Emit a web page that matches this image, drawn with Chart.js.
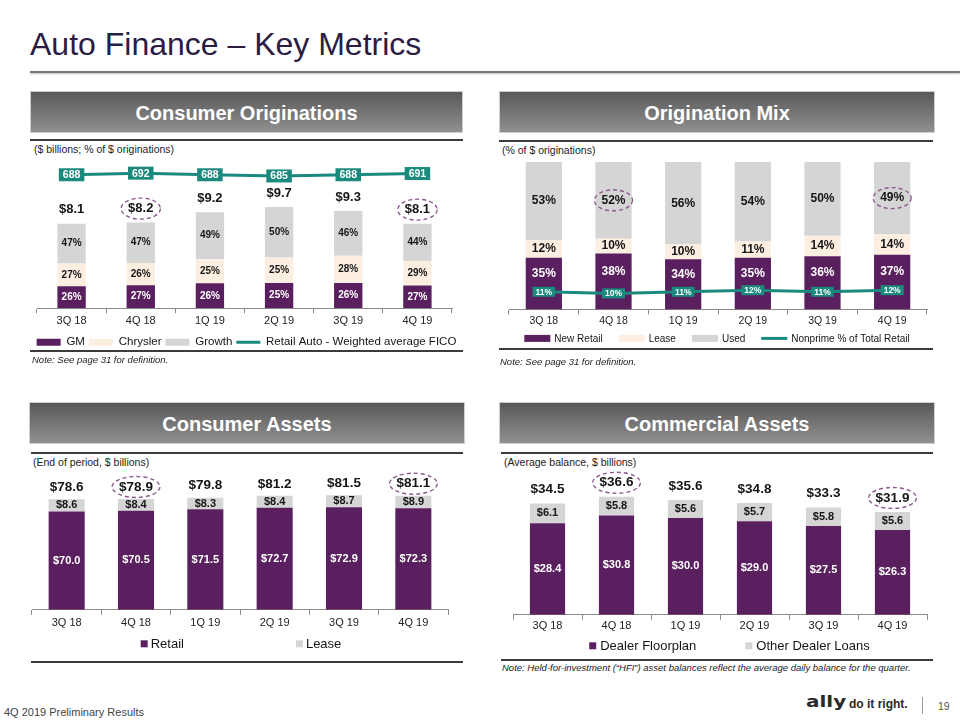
<!DOCTYPE html>
<html>
<head>
<meta charset="utf-8">
<script src="https://cdn.jsdelivr.net/npm/chart.js"></script>
<style>
html,body{margin:0;padding:0;width:960px;height:720px;overflow:hidden;background:#fff;font-family:"Liberation Sans",Arial,Helvetica,sans-serif;}
.t{position:absolute;white-space:nowrap;}
.hdr{position:absolute;height:42px;line-height:42px;text-align:center;color:#fff;font-weight:bold;font-size:20px;background:linear-gradient(#595959,#909090);border:1px solid #cfcfcf;box-sizing:border-box;}
.rule{position:absolute;height:2px;background:#3b3b3b;}
.sub{position:absolute;font-size:10.5px;color:#222;line-height:12px;white-space:nowrap;}
.note{position:absolute;font-size:9.5px;font-style:italic;color:#222;line-height:12px;white-space:nowrap;}
canvas{position:absolute;}
</style>
</head>
<body>
<div class="t" style="left:30px;top:28px;font-size:32px;line-height:32px;color:#2b1c44;">Auto Finance – Key Metrics</div>
<div style="position:absolute;left:30px;top:71px;width:930px;height:2px;background:#777;box-shadow:0 1px 2px #bbb;"></div>

<div class="hdr" style="left:30px;top:91px;width:433px;">Consumer Originations</div>
<div class="hdr" style="left:499px;top:91px;width:436px;">Origination Mix</div>
<div class="hdr" style="left:29px;top:402px;width:436px;">Consumer Assets</div>
<div class="hdr" style="left:499px;top:402px;width:436px;">Commercial Assets</div>

<div class="rule" style="left:30px;top:139px;width:433px;"></div>
<div class="rule" style="left:499px;top:140px;width:434px;"></div>
<div class="rule" style="left:31px;top:452px;width:432px;"></div>
<div class="rule" style="left:501px;top:452px;width:432px;"></div>

<div class="sub" style="left:34px;top:143px;">($ billions; % of $ originations)</div>
<div class="sub" style="left:502px;top:144px;">(% of $ originations)</div>
<div class="sub" style="left:33px;top:456px;">(End of period, $ billions)</div>
<div class="sub" style="left:504px;top:456px;">(Average balance, $ billions)</div>

<canvas id="c1" width="433" height="200" style="left:30px;top:158px;"></canvas>
<canvas id="c2" width="436" height="196" style="left:499px;top:158px;"></canvas>
<canvas id="c3" width="436" height="189" style="left:29px;top:466px;"></canvas>
<canvas id="c4" width="436" height="189" style="left:499px;top:466px;"></canvas>

<div class="rule" style="left:30px;top:350px;width:433px;"></div>
<div class="rule" style="left:499px;top:348px;width:434px;"></div>
<div class="rule" style="left:31px;top:661px;width:432px;"></div>
<div class="rule" style="left:501px;top:659px;width:432px;"></div>

<div class="note" style="left:32px;top:354px;">Note: See page 31 for definition.</div>
<div class="note" style="left:500px;top:356px;">Note: See page 31 for definition.</div>
<div class="note" style="left:502px;top:662px;">Note: Held-for-investment (“HFI”) asset balances reflect the average daily balance for the quarter.</div>

<div class="t" style="left:4px;top:706px;font-size:11px;line-height:12px;color:#444;">4Q 2019 Preliminary Results</div>
<div class="t" style="left:806px;top:688px;font-family:'DejaVu Sans',sans-serif;font-weight:bold;font-size:20px;line-height:22px;color:#2a2a2a;transform:scale(1,0.8);transform-origin:left bottom;">ally</div>
<div class="t" style="left:849px;top:698px;font-weight:bold;font-size:12px;line-height:12px;color:#2a2a2a;">do it right.</div>
<div style="position:absolute;left:922px;top:697px;width:1px;height:17px;background:#999;"></div>
<div class="t" style="left:938px;top:700px;font-size:10.5px;line-height:12px;color:#555;">19</div>

<script>
// ---------- data ----------
const quarters = ['3Q 18', '4Q 18', '1Q 19', '2Q 19', '3Q 19', '4Q 19'];

// Consumer Originations ($ billions; % of $ originations)
const origTotal = [8.1, 8.2, 9.2, 9.7, 9.3, 8.1];
const origGmPct = [26, 27, 26, 25, 26, 27];
const origChryslerPct = [27, 26, 25, 25, 28, 29];
const origGrowthPct = [47, 47, 49, 50, 46, 44];
const ficoScore = [688, 692, 688, 685, 688, 691];

// Origination Mix (% of $ originations)
const mixNewRetail = [35, 38, 34, 35, 36, 37];
const mixLease = [12, 10, 10, 11, 14, 14];
const mixUsed = [53, 52, 56, 54, 50, 49];
const nonprimePct = [11, 10, 11, 12, 11, 12];

// Consumer Assets (End of period, $ billions)
const caRetail = [70.0, 70.5, 71.5, 72.7, 72.9, 72.3];
const caLease = [8.6, 8.4, 8.3, 8.4, 8.7, 8.9];
const caTotal = [78.6, 78.9, 79.8, 81.2, 81.5, 81.1];

// Commercial Assets (Average balance, $ billions)
const cmFloorplan = [28.4, 30.8, 30.0, 29.0, 27.5, 26.3];
const cmOther = [6.1, 5.8, 5.6, 5.7, 5.8, 5.6];
const cmTotal = [34.5, 36.6, 35.6, 34.8, 33.3, 31.9];

// ---------- styling ----------
const FONT = '"Liberation Sans", Arial, Helvetica, sans-serif';
Chart.defaults.font.family = FONT;
Chart.defaults.color = '#1a1a1a';
const PURPLE = '#5a1f5e';
const CREAM = '#fcefe2';
const GRAY = '#d5d5d5';
const TEAL = '#1b8a7e';
const AXIS = '#8a8a8a';
const DARK = '#151515';

const pct = v => v + '%';
const usd = v => '$' + v.toFixed(1);

function xAxis(fontSize, pad, extra) {
  return {
    stacked: true, offset: true,
    grid: { display: true, offset: true, drawOnChartArea: false, drawTicks: true, tickLength: 5, color: AXIS, lineWidth: 1 },
    border: { display: true, color: AXIS, width: 1 },
    ticks: { color: '#222', font: { size: fontSize }, padding: pad, maxRotation: 0, autoSkip: false },
    afterFit: (s) => { s.height += extra; }
  };
}
function hiddenAxis(opts, width, pos) {
  return Object.assign({
    display: true, position: pos,
    ticks: { display: false }, grid: { display: false, drawTicks: false }, border: { display: false },
    afterFit: (s) => { s.width = width; }
  }, opts);
}
function legendItems(chart) {
  return chart.data.datasets.map((ds, i) => {
    const isLine = ds.type === 'line';
    return {
      text: ds.label, fillStyle: ds.backgroundColor, strokeStyle: isLine ? ds.borderColor : ds.backgroundColor,
      lineWidth: isLine ? 3 : 0, pointStyle: isLine ? 'line' : 'rect', hidden: false, datasetIndex: i, fontColor: DARK
    };
  });
}

function makeAnnot(cfg) {
  return {
    id: 'annot',
    afterDatasetsDraw(chart) {
      const ctx = chart.ctx;
      const rings = [];
      ctx.save();
      ctx.textAlign = 'center';
      ctx.textBaseline = 'middle';
      (cfg.segments || []).forEach(s => {
        chart.getDatasetMeta(s.dataset).data.forEach((el, i) => {
          const p = el.getProps(['x', 'y', 'base'], true);
          const txt = s.labels[i];
          const cy = (p.y + p.base) / 2 + (s.dy || 0);
          ctx.font = s.font; ctx.fillStyle = s.color;
          ctx.fillText(txt, p.x, cy);
          if (s.ring && s.ring.includes(i)) rings.push({ x: p.x, y: cy, w: ctx.measureText(txt).width });
        });
      });
      if (cfg.totals) {
        const t = cfg.totals;
        chart.getDatasetMeta(t.dataset).data.forEach((el, i) => {
          const p = el.getProps(['x', 'y'], true);
          const txt = t.labels[i];
          const cy = p.y - t.offset;
          ctx.font = t.font; ctx.fillStyle = t.color;
          ctx.fillText(txt, p.x, cy);
          if (t.ring && t.ring.includes(i)) rings.push({ x: p.x, y: cy, w: ctx.measureText(txt).width });
        });
      }
      if (cfg.boxes) {
        const b = cfg.boxes;
        chart.getDatasetMeta(b.dataset).data.forEach((el, i) => {
          const p = el.getProps(['x', 'y'], true);
          const txt = b.labels[i];
          ctx.font = b.font;
          const w = ctx.measureText(txt).width + 2 * b.padX;
          ctx.fillStyle = b.bg;
          ctx.fillRect(p.x - w / 2, p.y - b.h / 2, w, b.h);
          ctx.fillStyle = '#ffffff';
          ctx.fillText(txt, p.x, p.y + 0.5);
        });
      }
      ctx.strokeStyle = '#8d5b8d'; ctx.lineWidth = 1.4; ctx.setLineDash([4, 3]);
      rings.forEach(r => {
        ctx.beginPath();
        ctx.ellipse(r.x, r.y, r.w / 2 + 7, 10.5, 0, 0, Math.PI * 2);
        ctx.stroke();
      });
      ctx.restore();
    }
  };
}

function makeSpreadLegend(cfg) {
  return {
    id: 'spreadLegend',
    afterDraw(chart) {
      const ctx = chart.ctx, ca = chart.chartArea;
      ctx.save();
      ctx.font = cfg.font; ctx.textBaseline = 'middle'; ctx.textAlign = 'left';
      const items = chart.data.datasets.map(ds => ({
        label: ds.label, isLine: ds.type === 'line', color: ds.type === 'line' ? ds.borderColor : ds.backgroundColor,
        w: cfg.boxW + cfg.gap + ctx.measureText(ds.label).width
      }));
      const total = items.reduce((a, it) => a + it.w, 0) + cfg.spacing * (items.length - 1);
      let x = (ca.left + ca.right) / 2 + cfg.dx - total / 2;
      const y = ca.bottom + cfg.dy;
      items.forEach(it => {
        if (it.isLine) {
          ctx.strokeStyle = it.color; ctx.lineWidth = 3;
          ctx.beginPath(); ctx.moveTo(x, y); ctx.lineTo(x + cfg.boxW, y); ctx.stroke();
        } else {
          ctx.fillStyle = it.color;
          ctx.fillRect(x, y - cfg.boxH / 2, cfg.boxW, cfg.boxH);
        }
        ctx.fillStyle = DARK;
        ctx.fillText(it.label, x + cfg.boxW + cfg.gap, y + 0.5);
        x += it.w + cfg.spacing;
      });
      ctx.restore();
    }
  };
}

const baseOpts = { responsive: false, animation: false, devicePixelRatio: 1, events: [] };

// ---------- Chart 1: Consumer Originations ----------
new Chart(document.getElementById('c1'), {
  type: 'bar',
  data: {
    labels: quarters,
    datasets: [
      { label: 'GM', data: origTotal.map((t, i) => t * origGmPct[i] / 100), backgroundColor: PURPLE },
      { label: 'Chrysler', data: origTotal.map((t, i) => t * origChryslerPct[i] / 100), backgroundColor: CREAM },
      { label: 'Growth', data: origTotal.map((t, i) => t * origGrowthPct[i] / 100), backgroundColor: GRAY },
      { type: 'line', label: 'Retail Auto - Weighted average FICO', data: ficoScore, yAxisID: 'y2', borderColor: TEAL, backgroundColor: TEAL, borderWidth: 3, pointRadius: 0, tension: 0, order: -1 }
    ]
  },
  options: Object.assign({}, baseOpts, {
    layout: { padding: { top: 4, bottom: 0, left: 0, right: 0 } },
    datasets: { bar: { categoryPercentage: 1, barPercentage: 0.41 } },
    scales: {
      x: xAxis(11, 1, 4),
      y: hiddenAxis({ stacked: true, min: 0, max: 14 }, 7, 'left'),
      y2: hiddenAxis({ min: 353, max: 720 }, 11, 'right')
    },
    plugins: {
      legend: { position: 'bottom', labels: { usePointStyle: true, pointStyleWidth: 24, boxHeight: 7, padding: 4, font: { size: 11.5 }, color: DARK, generateLabels: legendItems } },
      tooltip: { enabled: false }
    }
  }),
  plugins: [makeAnnot({
    segments: [
      { dataset: 0, labels: origGmPct.map(pct), font: 'bold 10px ' + FONT, color: '#ffffff' },
      { dataset: 1, labels: origChryslerPct.map(pct), font: 'bold 10px ' + FONT, color: DARK },
      { dataset: 2, labels: origGrowthPct.map(pct), font: 'bold 10px ' + FONT, color: DARK }
    ],
    totals: { dataset: 2, labels: origTotal.map(usd), font: 'bold 13px ' + FONT, color: DARK, offset: 14, ring: [1, 5] },
    boxes: { dataset: 3, labels: ficoScore.map(String), font: 'bold 10.5px ' + FONT, bg: TEAL, padX: 4, h: 13 }
  })]
});

// ---------- Chart 2: Origination Mix ----------
new Chart(document.getElementById('c2'), {
  type: 'bar',
  data: {
    labels: quarters,
    datasets: [
      { label: 'New Retail', data: mixNewRetail, backgroundColor: PURPLE },
      { label: 'Lease', data: mixLease, backgroundColor: CREAM },
      { label: 'Used', data: mixUsed, backgroundColor: GRAY },
      { type: 'line', label: 'Nonprime % of Total Retail', data: nonprimePct, yAxisID: 'y2', borderColor: TEAL, backgroundColor: TEAL, borderWidth: 3, pointRadius: 0, tension: 0, order: -1 }
    ]
  },
  options: Object.assign({}, baseOpts, {
    layout: { padding: { top: 4, bottom: 27, left: 0, right: 0 } },
    datasets: { bar: { categoryPercentage: 1, barPercentage: 0.52 } },
    scales: {
      x: xAxis(10.5, 0, 0),
      y: hiddenAxis({ stacked: true, min: 0, max: 100 }, 10, 'left'),
      y2: hiddenAxis({ min: 0, max: 92 }, 8, 'right')
    },
    plugins: { legend: { display: false }, tooltip: { enabled: false } }
  }),
  plugins: [
    makeAnnot({
      segments: [
        { dataset: 0, labels: mixNewRetail.map(pct), font: 'bold 12px ' + FONT, color: '#ffffff', dy: -10 },
        { dataset: 1, labels: mixLease.map(pct), font: 'bold 12px ' + FONT, color: DARK },
        { dataset: 2, labels: mixUsed.map(pct), font: 'bold 12px ' + FONT, color: DARK, ring: [1, 5] }
      ],
      boxes: { dataset: 3, labels: nonprimePct.map(pct), font: 'bold 8.5px ' + FONT, bg: TEAL, padX: 3, h: 10 }
    }),
    makeSpreadLegend({ font: '10px ' + FONT, boxW: 26, boxH: 7, gap: 4, spacing: 16, dx: -1, dy: 29 })
  ]
});

// ---------- Chart 3: Consumer Assets ----------
new Chart(document.getElementById('c3'), {
  type: 'bar',
  data: {
    labels: quarters,
    datasets: [
      { label: 'Retail', data: caRetail, backgroundColor: PURPLE },
      { label: 'Lease', data: caLease, backgroundColor: GRAY }
    ]
  },
  options: Object.assign({}, baseOpts, {
    layout: { padding: { top: 4, bottom: 23, left: 3, right: 17 } },
    datasets: { bar: { categoryPercentage: 1, barPercentage: 0.52 } },
    scales: {
      x: xAxis(11, 2, 0),
      y: { display: false, stacked: true, min: 0, max: 99.5 }
    },
    plugins: { legend: { display: false }, tooltip: { enabled: false } }
  }),
  plugins: [
    makeAnnot({
      segments: [
        { dataset: 0, labels: caRetail.map(usd), font: 'bold 11px ' + FONT, color: '#ffffff' },
        { dataset: 1, labels: caLease.map(usd), font: 'bold 11px ' + FONT, color: DARK }
      ],
      totals: { dataset: 1, labels: caTotal.map(usd), font: 'bold 13.5px ' + FONT, color: DARK, offset: 12, ring: [1, 5] }
    }),
    makeSpreadLegend({ font: '13px ' + FONT, boxW: 7, boxH: 7, gap: 3, spacing: 112, dx: 1, dy: 34 })
  ]
});

// ---------- Chart 4: Commercial Assets ----------
new Chart(document.getElementById('c4'), {
  type: 'bar',
  data: {
    labels: quarters,
    datasets: [
      { label: 'Dealer Floorplan', data: cmFloorplan, backgroundColor: PURPLE },
      { label: 'Other Dealer Loans', data: cmOther, backgroundColor: GRAY }
    ]
  },
  options: Object.assign({}, baseOpts, {
    layout: { padding: { top: 4, bottom: 22, left: 14, right: 8 } },
    datasets: { bar: { categoryPercentage: 1, barPercentage: 0.51 } },
    scales: {
      x: xAxis(11, 0, 0),
      y: { display: false, stacked: true, min: 0, max: 44.9 }
    },
    plugins: { legend: { display: false }, tooltip: { enabled: false } }
  }),
  plugins: [
    makeAnnot({
      segments: [
        { dataset: 0, labels: cmFloorplan.map(usd), font: 'bold 11px ' + FONT, color: '#ffffff' },
        { dataset: 1, labels: cmOther.map(usd), font: 'bold 11px ' + FONT, color: DARK }
      ],
      totals: { dataset: 1, labels: cmTotal.map(usd), font: 'bold 13.5px ' + FONT, color: DARK, offset: 14, ring: [1, 5] }
    }),
    makeSpreadLegend({ font: '13px ' + FONT, boxW: 7, boxH: 7, gap: 4, spacing: 49, dx: 9.5, dy: 31 })
  ]
});
</script>
</body>
</html>
